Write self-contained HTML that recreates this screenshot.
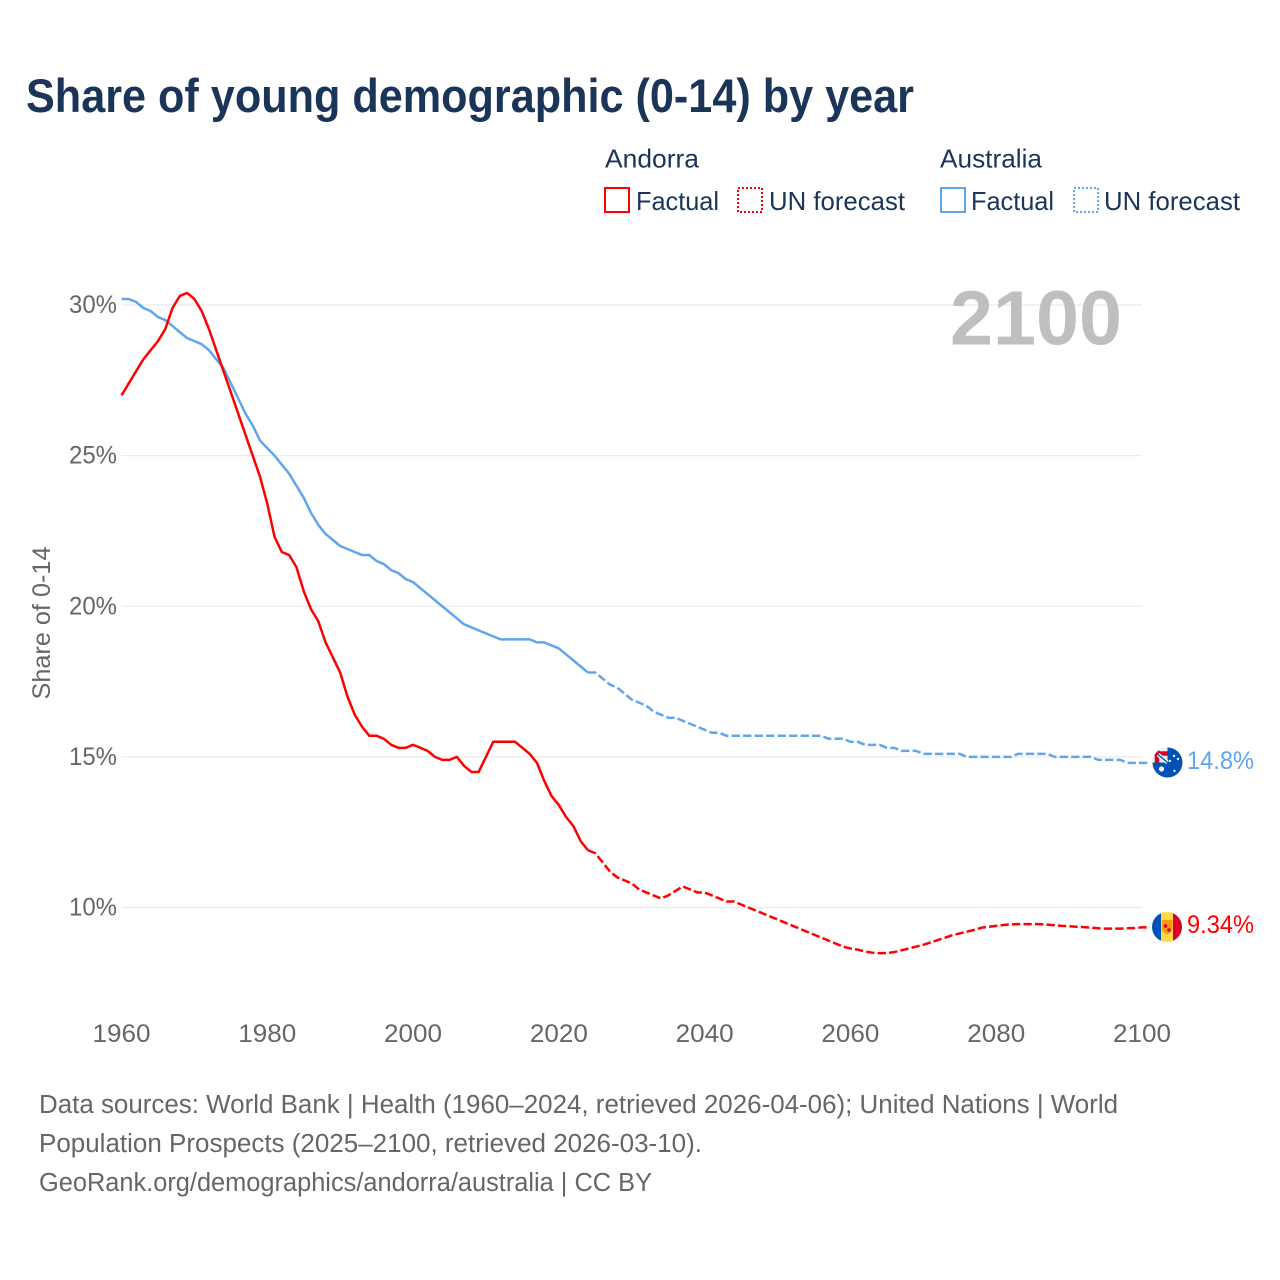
<!DOCTYPE html>
<html lang="en">
<head>
<meta charset="utf-8">
<title>Share of young demographic (0-14) by year</title>
<style>
html,body{margin:0;padding:0;background:#fff;}
svg{display:block;font-family:"Liberation Sans",sans-serif;}
</style>
</head>
<body>
<svg id="chart" width="1280" height="1280" viewBox="0 0 1280 1280" xmlns="http://www.w3.org/2000/svg">
  <defs>
    <clipPath id="clip-au"><circle cx="1167.5" cy="762.5" r="15"/></clipPath>
    <clipPath id="clip-ad"><circle cx="1167" cy="927" r="15"/></clipPath>
  </defs>
  <rect x="0" y="0" width="1280" height="1280" fill="#ffffff"/>
  <text x="26" y="112" font-size="47" font-weight="700" fill="#1a3558" textLength="888" lengthAdjust="spacingAndGlyphs">Share of young demographic (0-14) by year</text>

  <g font-size="26" fill="#1a3558">
    <text x="605" y="167.500" textLength="94" lengthAdjust="spacingAndGlyphs">Andorra</text>
    <text x="940" y="167.500" textLength="102" lengthAdjust="spacingAndGlyphs">Australia</text>
    <rect x="605" y="188" width="24" height="24" fill="none" stroke="#ff0000" stroke-width="2"/>
    <text x="636" y="210" textLength="83" lengthAdjust="spacingAndGlyphs">Factual</text>
    <rect x="738" y="188" width="24" height="24" fill="none" stroke="#ff0000" stroke-width="2" stroke-dasharray="2 2"/>
    <text x="769" y="210" textLength="136" lengthAdjust="spacingAndGlyphs">UN forecast</text>
    <rect x="941" y="188" width="24" height="24" fill="none" stroke="#5fa6ed" stroke-width="2"/>
    <text x="971" y="210" textLength="83" lengthAdjust="spacingAndGlyphs">Factual</text>
    <rect x="1074" y="188" width="24" height="24" fill="none" stroke="#5fa6ed" stroke-width="2" stroke-dasharray="2 2"/>
    <text x="1104" y="210" textLength="136" lengthAdjust="spacingAndGlyphs">UN forecast</text>
  </g>

  <g id="grid"></g>
  <g id="yticks"></g>
  <g id="xticks"></g>
  <text transform="translate(50,623) rotate(-90)" text-anchor="middle" font-size="25" fill="#666666" textLength="153" lengthAdjust="spacingAndGlyphs">Share of 0-14</text>
  <text x="1122" y="344.500" text-anchor="end" font-size="77" font-weight="700" fill="#bfbfbf" textLength="172" lengthAdjust="spacingAndGlyphs">2100</text>
  <g id="series"></g>

  <g clip-path="url(#clip-au)">
    <rect x="1152" y="747" width="31" height="31" fill="#0052b4"/>
    <rect x="1152" y="747" width="15.500" height="15.500" fill="#f0f0f0"/>
    <path d="M1152 753.500h15.500M1157 747v15.500" stroke="#d80027" stroke-width="4.500" fill="none"/>
    <path d="M1158 754.500l9.500 8" stroke="#f0f0f0" stroke-width="4" fill="none"/>
    <path d="M1158 754.500l9.500 8" stroke="#0052b4" stroke-width="1.400" fill="none"/>
    <circle cx="1161.500" cy="769" r="2.600" fill="#f0f0f0"/>
    <circle cx="1170" cy="761" r="1.200" fill="#f0f0f0"/>
    <circle cx="1174" cy="756" r="1.200" fill="#f0f0f0"/>
    <circle cx="1178" cy="759" r="1.200" fill="#f0f0f0"/>
    <circle cx="1174.500" cy="771" r="1.200" fill="#f0f0f0"/>
  </g>
  <text x="1187" y="769" font-size="25" fill="#5fa6ed" textLength="67" lengthAdjust="spacingAndGlyphs">14.8%</text>

  <g clip-path="url(#clip-ad)">
    <rect x="1152" y="912" width="9" height="30" fill="#0052b4"/>
    <rect x="1161" y="912" width="12" height="30" fill="#ffda44"/>
    <rect x="1173" y="912" width="9" height="30" fill="#d80027"/>
    <path d="M1162 920h10.500v9q-1 4-5.250 5.500q-4.250-1.500-5.250-5.500z" fill="#ff9811"/>
    <circle cx="1165.500" cy="926" r="1.800" fill="#d80027"/>
    <circle cx="1169" cy="930" r="1.800" fill="#d80027"/>
  </g>
  <text x="1187" y="933" font-size="25" fill="#ff0000" textLength="67" lengthAdjust="spacingAndGlyphs">9.34%</text>

  <g font-size="25.500" fill="#666666">
    <text x="39" y="1113" textLength="1079" lengthAdjust="spacingAndGlyphs">Data sources: World Bank | Health (1960–2024, retrieved 2026-04-06); United Nations | World</text>
    <text x="39" y="1152" textLength="663" lengthAdjust="spacingAndGlyphs">Population Prospects (2025–2100, retrieved 2026-03-10).</text>
    <text x="39" y="1191" textLength="613" lengthAdjust="spacingAndGlyphs">GeoRank.org/demographics/andorra/australia | CC BY</text>
  </g>
</svg>

<script>
const xTickYears = [1960, 1980, 2000, 2020, 2040, 2060, 2080, 2100];
const yTickValues = [10, 15, 20, 25, 30];
const yTickLabels = ["10%", "15%", "20%", "25%", "30%"];
const factualStartYear = 1960;
const forecastStartYear = 2025;

const andorraFactual = [
  27.0, 27.4, 27.8, 28.2, 28.5, 28.8, 29.2, 29.9, 30.3, 30.4,
  30.2, 29.8, 29.2, 28.5, 27.8, 27.1, 26.4, 25.7, 25.0, 24.3,
  23.4, 22.3, 21.8, 21.7, 21.3, 20.5, 19.9, 19.5, 18.8, 18.3,
  17.8, 17.0, 16.4, 16.0, 15.7, 15.7, 15.6, 15.4, 15.3, 15.3,
  15.4, 15.3, 15.2, 15.0, 14.9, 14.9, 15.0, 14.7, 14.5, 14.5,
  15.0, 15.5, 15.5, 15.5, 15.5, 15.3, 15.1, 14.8, 14.2, 13.7,
  13.4, 13.0, 12.7, 12.2, 11.9
];
const andorraForecast = [
  11.8, 11.5, 11.2, 11.0, 10.9, 10.8, 10.6, 10.5, 10.4, 10.3,
  10.4, 10.55, 10.7, 10.6, 10.5, 10.5, 10.4, 10.3, 10.2, 10.2,
  10.1, 10.0, 9.9, 9.8, 9.7, 9.6, 9.5, 9.4, 9.3, 9.2,
  9.1, 9.0, 8.9, 8.8, 8.7, 8.64, 8.6, 8.54, 8.5, 8.48,
  8.49, 8.52, 8.58, 8.64, 8.7, 8.76, 8.84, 8.92, 9.0, 9.08,
  9.14, 9.2, 9.26, 9.33, 9.36, 9.39, 9.42, 9.44, 9.45, 9.45,
  9.45, 9.45, 9.43, 9.41, 9.39, 9.38, 9.36, 9.35, 9.33, 9.31,
  9.3, 9.3, 9.3, 9.31, 9.32, 9.34
];
const australiaFactual = [
  30.2, 30.2, 30.1, 29.9, 29.8, 29.6, 29.5, 29.3, 29.1, 28.9,
  28.8, 28.7, 28.5, 28.2, 27.9, 27.4, 26.9, 26.4, 26.0, 25.5,
  25.25, 25.0, 24.7, 24.4, 24.0, 23.6, 23.1, 22.7, 22.4, 22.2,
  22.0, 21.9, 21.8, 21.7, 21.7, 21.5, 21.4, 21.2, 21.1, 20.9,
  20.8, 20.6, 20.4, 20.2, 20.0, 19.8, 19.6, 19.4, 19.3, 19.2,
  19.1, 19.0, 18.9, 18.9, 18.9, 18.9, 18.9, 18.8, 18.8, 18.7,
  18.6, 18.4, 18.2, 18.0, 17.8
];
const australiaForecast = [
  17.8, 17.6, 17.4, 17.3, 17.1, 16.9, 16.8, 16.7, 16.5, 16.4,
  16.3, 16.3, 16.2, 16.1, 16.0, 15.9, 15.8, 15.8, 15.7, 15.7,
  15.7, 15.7, 15.7, 15.7, 15.7, 15.7, 15.7, 15.7, 15.7, 15.7,
  15.7, 15.7, 15.6, 15.6, 15.6, 15.5, 15.5, 15.4, 15.4, 15.4,
  15.3, 15.3, 15.2, 15.2, 15.2, 15.1, 15.1, 15.1, 15.1, 15.1,
  15.1, 15.0, 15.0, 15.0, 15.0, 15.0, 15.0, 15.0, 15.1, 15.1,
  15.1, 15.1, 15.1, 15.0, 15.0, 15.0, 15.0, 15.0, 15.0, 14.9,
  14.9, 14.9, 14.9, 14.8, 14.8, 14.8
];

const SVG_NS = "http://www.w3.org/2000/svg";
const ANDORRA_COLOR = "#ff0000";
const AUSTRALIA_COLOR = "#5fa6ed";
const LEADER_LENGTH = 8;

function xScale(year) {
  return 121.5 + (year - 1960) * (1142 - 121.5) / 140;
}
function yScale(value) {
  return 907.5 - (value - 10) * 30.125;
}
function linePath(startYear, values) {
  return values.map(function (v, i) {
    return (i === 0 ? "M" : "L") + xScale(startYear + i).toFixed(2) + " " + yScale(v).toFixed(2);
  }).join("");
}
function forecastPath(factual, forecast) {
  const lastFactualYear = factualStartYear + factual.length - 1;
  const lastValue = forecast[forecast.length - 1];
  const lastYear = forecastStartYear + forecast.length - 1;
  return linePath(lastFactualYear, [factual[factual.length - 1]].concat(forecast)) +
    "L" + (xScale(lastYear) + LEADER_LENGTH).toFixed(2) + " " + yScale(lastValue).toFixed(2);
}

const grid = document.getElementById("grid");
const yTicks = document.getElementById("yticks");
const xTicks = document.getElementById("xticks");
const series = document.getElementById("series");

yTickValues.forEach(function (value, i) {
  const line = document.createElementNS(SVG_NS, "line");
  
  
  line.setAttribute("x1", xScale(1960));
  line.setAttribute("x2", xScale(2100));
  line.setAttribute("y1", yScale(value));
  line.setAttribute("y2", yScale(value));
  line.setAttribute("stroke", "#ebebeb");
  line.setAttribute("stroke-width", "1.2");
  grid.appendChild(line);

  const label = document.createElementNS(SVG_NS, "text");
  
  
  label.setAttribute("x", "117");
  label.setAttribute("y", yScale(value) + 8);
  label.setAttribute("text-anchor", "end");
  label.setAttribute("font-size", "25");
  label.setAttribute("fill", "#666666");
  label.setAttribute("textLength", "48");
  label.setAttribute("lengthAdjust", "spacingAndGlyphs");
  label.textContent = yTickLabels[i];
  yTicks.appendChild(label);
});

xTickYears.forEach(function (year) {
  const label = document.createElementNS(SVG_NS, "text");
  
  
  label.setAttribute("x", xScale(year));
  label.setAttribute("y", "1042");
  label.setAttribute("text-anchor", "middle");
  label.setAttribute("font-size", "25");
  label.setAttribute("fill", "#666666");
  label.setAttribute("textLength", "58");
  label.setAttribute("lengthAdjust", "spacingAndGlyphs");
  label.textContent = year;
  xTicks.appendChild(label);
});

function addLine(d, color, dashed) {
  const path = document.createElementNS(SVG_NS, "path");
  path.setAttribute("d", d);
  path.setAttribute("fill", "none");
  path.setAttribute("stroke", color);
  path.setAttribute("stroke-width", "2.5");
  path.setAttribute("stroke-linejoin", "round");
  if (dashed) path.setAttribute("stroke-dasharray", "8.3 3.2");
  series.appendChild(path);
  return path;
}

const australiaFactualLine = addLine(linePath(factualStartYear, australiaFactual), AUSTRALIA_COLOR, false);



const australiaForecastLine = addLine(forecastPath(australiaFactual, australiaForecast), AUSTRALIA_COLOR, true);



const andorraFactualLine = addLine(linePath(factualStartYear, andorraFactual), ANDORRA_COLOR, false);



const andorraForecastLine = addLine(forecastPath(andorraFactual, andorraForecast), ANDORRA_COLOR, true);


</script>
</body>
</html>
